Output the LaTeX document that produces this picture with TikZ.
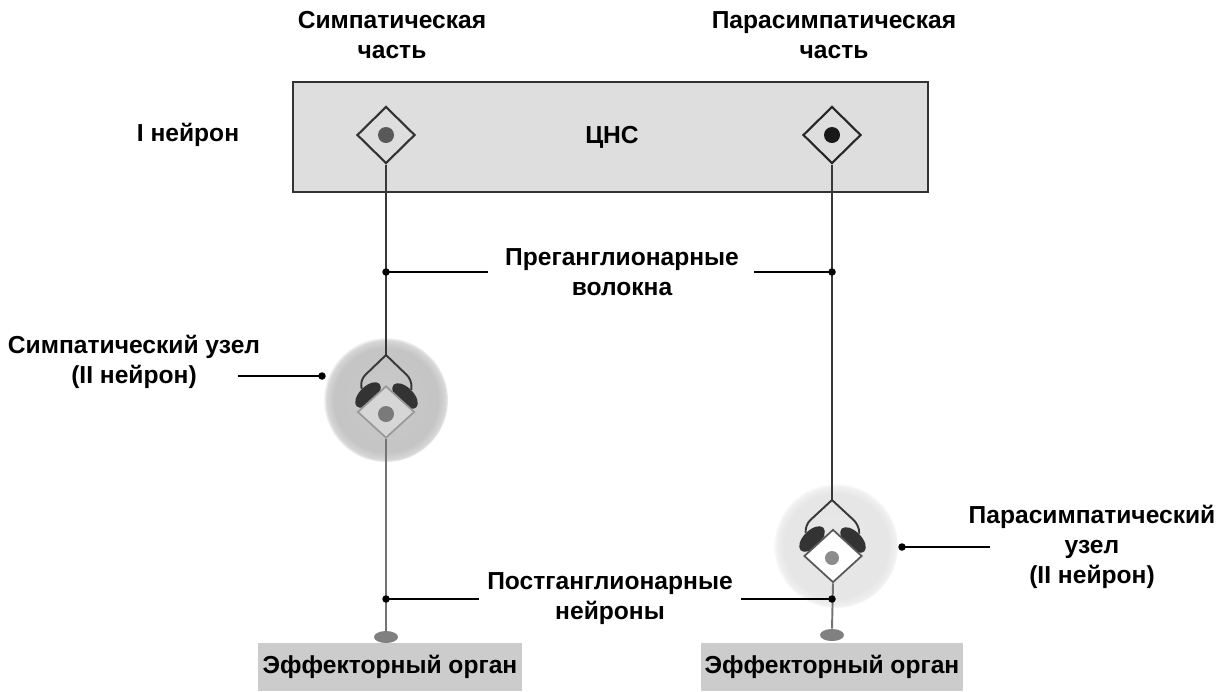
\documentclass[tikz,border=0pt]{standalone}
\usepackage{fontspec}
\setmainfont{Liberation Sans}
\usetikzlibrary{shapes.geometric}

% soft-edged ganglia
\pgfdeclareradialshading{gangdark}{\pgfpoint{0bp}{0bp}}{color(0bp)=(black!21); color(21bp)=(black!23); color(24bp)=(black!16); color(25.5bp)=(white); color(50bp)=(white)}
\pgfdeclareradialshading{ganglight}{\pgfpoint{0bp}{0bp}}{color(0bp)=(black!9); color(21bp)=(black!10); color(24bp)=(black!6); color(25.5bp)=(white); color(50bp)=(white)}

\begin{document}
\begin{tikzpicture}[x=0.02cm, y=0.02cm,
  lbl/.style={font=\fontsize{14}{17}\selectfont\bfseries, align=center, inner sep=0pt},
  soma/.style={diamond, line width=1.2pt, inner sep=0pt, minimum width=1.16cm, minimum height=1.14cm},
  nucleus/.style={circle, inner sep=0pt, minimum size=0.32cm},
  fibre/.style={draw=black!78, line width=1.1pt},
  postfibre/.style={draw=black!55, line width=1.1pt},
  lead/.style={draw=black, line width=1.1pt},
  joint/.style={circle, fill=black, inner sep=0pt, minimum size=0.15cm},
  syn/.style={ellipse, fill=black!80, inner sep=0pt, minimum width=0.64cm, minimum height=0.34cm},
  endplate/.style={ellipse, fill=black!50, inner sep=0pt, minimum width=0.48cm, minimum height=0.24cm},
  organ/.style={fill=black!20, inner sep=0pt, minimum height=0.96cm, font=\fontsize{14}{17}\selectfont\bfseries}]
\useasboundingbox (0,0) rectangle (1226,-691);

% headings
\node[lbl] (symt) at (392,-35) {Симпатическая\\часть};
\node[lbl] (part) at (834,-35) {Парасимпатическая\\часть};

% CNS block with the first neurons
\node[draw=black!80, line width=1.1pt, fill=black!13, minimum width=12.7cm, minimum height=2.2cm] (cns) at (610.5,-137) {};
\node[lbl] (cnslbl) at (612,-137) {ЦНС};
\node[lbl] (n1) at (188,-135) {I нейрон};
\node[soma, draw=black!80, fill=black!13] (s1) at (386,-135) {};
\node[nucleus, fill=black!65] (d1) at (s1) {};
\node[soma, draw=black!85, fill=black!13] (s2) at (832,-135) {};
\node[nucleus, fill=black!90] (d2) at (s2) {};

% sympathetic ganglion
\node[circle, minimum size=2.48cm, shading=gangdark] (g1) at (386,-400) {};
\coordinate (f1) at (386,-355);
\draw[fibre] (s1.south) -- (f1);
\node[syn, rotate=45] (a1) at (368,-395) {};
\node[syn, rotate=-45] (b1) at (405,-396) {};
\draw[fibre, rounded corners=4pt] (f1) -- (360,-380) -- (a1.north);
\draw[fibre, rounded corners=4pt] (f1) -- (412,-380) -- (b1.north);
\node[soma, draw=black!40, line width=1pt, fill=black!16, minimum width=1.14cm, minimum height=1.04cm] (s3) at (386,-412) {};
\node[nucleus, fill=black!52] (d3) at (386,-414) {};

% parasympathetic ganglion
\node[circle, minimum size=2.48cm, shading=ganglight] (g2) at (836,-546) {};
\coordinate (f2) at (832,-500);
\draw[fibre] (s2.south) -- (f2);
\node[syn, rotate=45] (a2) at (812,-539) {};
\node[syn, rotate=-45] (b2) at (853,-540) {};
\draw[fibre, rounded corners=4pt] (f2) -- (805,-525) -- (a2.north);
\draw[fibre, rounded corners=4pt] (f2) -- (859,-525) -- (b2.north);
\node[soma, draw=black!65, line width=1pt, fill=white, minimum width=1.16cm, minimum height=1.06cm] (s4) at (833,-556) {};
\node[nucleus, fill=black!45, minimum size=0.28cm] (d4) at (832,-558) {};

% effector organs
\node[organ, minimum width=5.28cm] (o1) at (390,-667) {Эффекторный орган};
\node[organ, minimum width=5.24cm] (o2) at (832,-667) {Эффекторный орган};
\node[endplate] (e1) at (386,-637) {};
\node[endplate] (e2) at (832,-635) {};
\draw[postfibre] (s3.south) -- (e1.north);
\draw[postfibre] (s4.south) -- (e2.north);

% fibre labels
\node[lbl] (pre) at (622,-272) {Преганглионарные\\волокна};
\coordinate (pl) at (386,-272);
\coordinate (pr) at (832,-272);
\draw[lead] ([xshift=-0.34cm]pre.west) -- (pl);
\draw[lead] ([xshift=0.3cm]pre.east) -- (pr);
\node[joint] at (pl) {};
\node[joint] at (pr) {};

\node[lbl] (post) at (610,-599) {Постганглионарные\\нейроны};
\coordinate (ql) at (386,-599);
\coordinate (qr) at (832,-599);
\draw[lead] ([xshift=-0.16cm]post.west) -- (ql);
\draw[lead] ([xshift=0.16cm]post.east) -- (qr);
\node[joint] at (ql) {};
\node[joint] at (qr) {};

% ganglion labels
\node[lbl] (gl) at (134,-362) {Симпатический узел\\(II нейрон)};
\coordinate (gl1) at (238,-376);
\coordinate (gl2) at (322,-376);
\draw[lead] (gl1) -- (gl2);
\node[joint] at (gl2) {};

\node[lbl] (gr) at (1092,-547) {Парасимпатический\\узел\\(II нейрон)};
\coordinate (gr1) at (990,-547);
\coordinate (gr2) at (902,-547);
\draw[lead] (gr1) -- (gr2);
\node[joint] at (gr2) {};
\end{tikzpicture}
\end{document}
